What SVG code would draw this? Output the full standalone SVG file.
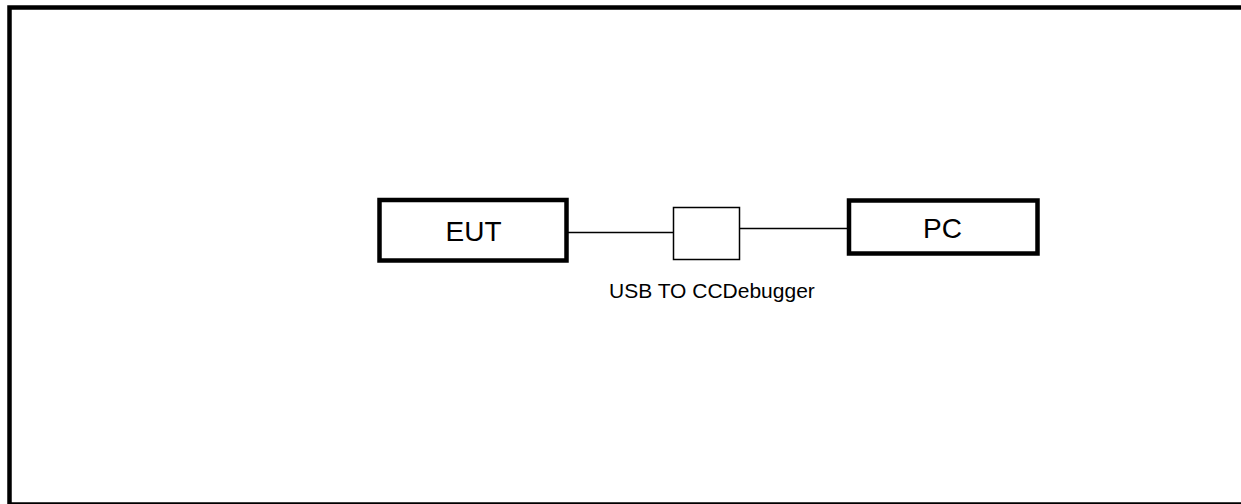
<svg xmlns="http://www.w3.org/2000/svg" width="1241" height="504" viewBox="0 0 1241 504">
<style>
.frame{fill:none;stroke:#000;stroke-width:4.5}
.node{fill:#fff;stroke:#000;stroke-width:4.5}
.small{fill:#fff;stroke:#000;stroke-width:1.5}
.conn{stroke:#000;stroke-width:1.5;fill:none}
text{font-family:"Liberation Sans",Arial,sans-serif;fill:#000}
.lbl{font-size:28px;text-anchor:middle}
.cap{font-size:21px}
</style>
<rect width="1241" height="504" fill="#fff"/>
<rect class="frame" x="9.5" y="7.5" width="1240" height="497"/>
<g id="connectors">
<line class="conn" x1="568" y1="232.5" x2="673.5" y2="232.5"/>
<line class="conn" x1="739.5" y1="228.5" x2="847" y2="228.5"/>
</g>
<g id="eut">
<rect class="node" x="379.5" y="200" width="187" height="60.5"/>
<text class="lbl" x="473.5" y="241">EUT</text>
</g>
<g id="debugger">
<rect class="small" x="673.5" y="207.5" width="66" height="52"/>
<text class="cap" x="609" y="298">USB TO CCDebugger</text>
</g>
<g id="pc">
<rect class="node" x="849" y="200.5" width="188.5" height="53"/>
<text class="lbl" x="942.5" y="238">PC</text>
</g>
</svg>
